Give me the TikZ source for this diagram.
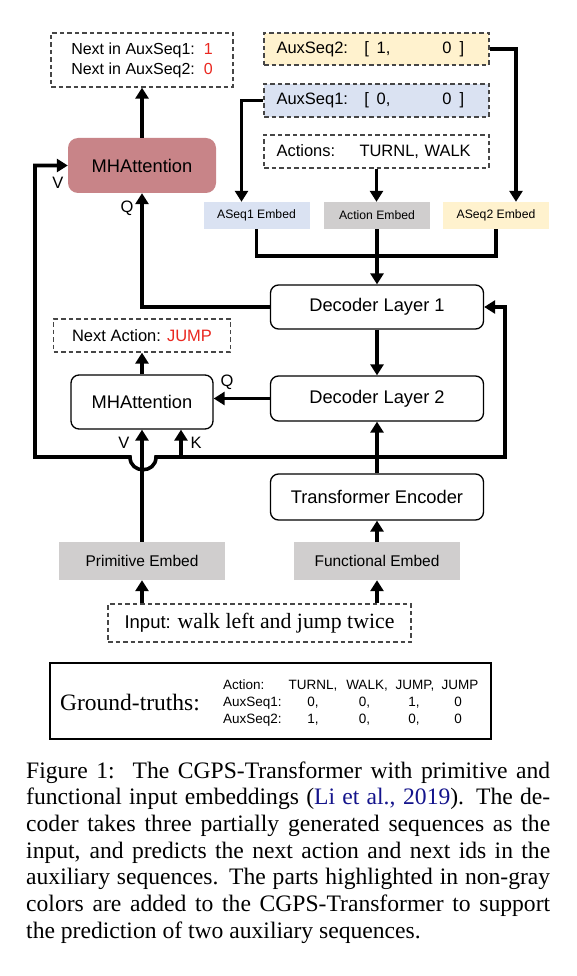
\documentclass[tikz,border=0pt]{standalone}
\usepackage{fontspec}
\setmainfont{Liberation Sans}
\newfontfamily\capfont{Liberation Serif}
\usetikzlibrary{arrows.meta,calc}
\definecolor{rose}{RGB}{200,132,136}
\definecolor{lblue}{RGB}{218,226,242}
\definecolor{lyellow}{RGB}{255,242,206}
\definecolor{lgray}{RGB}{208,206,206}
\definecolor{tred}{RGB}{234,40,32}
\definecolor{citeblue}{RGB}{20,20,140}
\definecolor{dashc}{RGB}{70,70,70}
\begin{document}
\begin{tikzpicture}[x=1pt,y=-1pt,
  dbox/.style={draw=dashc,dash pattern=on 4.5pt off 3pt,line width=1.3pt,inner sep=0pt},
  rbox/.style={draw=black,line width=1.3pt,rounded corners=8pt,fill=white,inner sep=0pt,
     minimum width=213pt,font=\fontsize{18.3}{22}\selectfont},
  embtop/.style={inner sep=0pt,minimum width=106pt,minimum height=27pt,font=\fontsize{12.2}{14}\selectfont},
  embbot/.style={inner sep=0pt,fill=lgray,minimum width=166pt,minimum height=38pt,font=\fontsize{15.5}{18}\selectfont},
  auxtxt/.style={font=\fontsize{16.5}{20}\selectfont,text width=200pt,align=left},
  conn/.style={line width=3.6pt},
  arr/.style={line width=3.6pt,-{Triangle[width=13pt,length=11pt]}},
  lab/.style={font=\fontsize{16.5}{18}\selectfont,inner sep=0pt},
  tt/.style={font=\fontsize{13.5}{16}\selectfont,inner sep=0pt},
]
\fill[white] (0,0) rectangle (576,976);
\useasboundingbox (0,0) rectangle (576,976);

% top-left output box
\node[dbox,minimum width=182pt,minimum height=54pt,align=left,
      font=\fontsize{16}{20}\selectfont] (nextaux) at (142,60)
  {Next in AuxSeq1:\ \ \textcolor{tred}{1}\\Next in AuxSeq2:\ \ \textcolor{tred}{0}};

% auxiliary sequences and actions
\node[dbox,fill=lyellow,minimum width=225pt,minimum height=32pt,auxtxt] (aux2) at (376.5,49)
  {\makebox[88pt][l]{AuxSeq2:}[\hspace{7.5pt}1,\hspace{52pt}0\hspace{8pt}]};
\node[dbox,fill=lblue,minimum width=225pt,minimum height=33pt,auxtxt] (aux1) at (376.5,100.5)
  {\makebox[88pt][l]{AuxSeq1:}[\hspace{7.5pt}0,\hspace{52pt}0\hspace{8pt}]};
\node[dbox,minimum width=225pt,minimum height=33pt,auxtxt] (actions) at (376.5,151.5)
  {\makebox[83pt][l]{Actions:}TURNL, WALK};

% embeddings (top)
\node[embtop,fill=lblue] (aseq1emb) at (256.5,215.5) {ASeq1 Embed};
\node[embtop,fill=lgray] (actemb) at (377,215.5) {Action Embed};
\node[embtop,fill=lyellow] (aseq2emb) at (496,215.5) {ASeq2 Embed};

% decoder / encoder
\node[rbox,minimum height=44pt] (dl1) at (377,307) {Decoder Layer 1};
\node[rbox,minimum height=45pt] (dl2) at (377,398.5) {Decoder Layer 2};
\node[rbox,minimum height=46pt] (te) at (377,497) {Transformer Encoder};

% attention heads
\node[fill=rose,rounded corners=10pt,minimum width=148pt,minimum height=55pt,inner sep=0pt,
      font=\fontsize{18.3}{22}\selectfont] (mha1) at (142,165.5) {MHAttention};
\node[rbox,minimum width=142pt,minimum height=54pt] (mha2) at (142,402) {MHAttention};
\node[dbox,minimum width=177pt,minimum height=33pt,font=\fontsize{16.5}{20}\selectfont] (nextact) at (142,335.5)
  {Next Action: \textcolor{tred}{JUMP}};

% bottom embeddings and input
\node[embbot] (primemb) at (142,561) {Primitive Embed};
\node[embbot] (funcemb) at (377,561) {Functional Embed};
\node[dbox,minimum width=303pt,minimum height=38pt] (input) at (259.5,623)
  {\fontsize{18.5}{20}\selectfont Input: {\capfont\fontsize{21.8}{24}\selectfont walk left and jump twice}};

% connectors
\draw[arr] (mha1.north) -- (nextaux.south);
\draw[arr,line join=miter] (aux2.east) -| ([xshift=20pt]aseq2emb.north);
\draw[arr,line join=miter] (aux1.west) -| ([xshift=-15pt]aseq1emb.north);
\draw[arr] (actions.south) -- (actions.south |- actemb.north);
\coordinate (join) at (377,256);
\draw[conn,line join=miter] (aseq1emb.south) |- (join) -| (aseq2emb.south);
\draw[arr] (actemb.south) -- (dl1.north);
\draw[arr] (dl1.south) -- (dl2.north);
\draw[arr] (te.north) -- (dl2.south);
\coordinate (enc) at (377,457);
\draw[arr,line join=miter] (enc) -- (505,457) |- (dl1.east);
\draw[arr,line join=miter] (enc) -- (156,457) .. controls (156,474) and (130,474) .. (130,457)
   -- (35,457) |- (mha1.west);
\coordinate (kin) at (181,457);
\draw[arr] (kin) -- (kin |- mha2.south);
\draw[arr] (primemb.north) -- (mha2.south);
\draw[arr] (dl2.west) -- (dl2.west -| mha2.east);
\draw[arr] (mha2.north) -- (nextact.south);
\draw[arr,line join=miter] (dl1.west) -| (mha1.south);
\draw[arr] (funcemb.north) -- (te.south);
\draw[arr] (input.north -| primemb.south) -- (primemb.south);
\draw[arr] (input.north -| funcemb.south) -- (funcemb.south);

% port labels
\node[lab] (q1) at (127,208) {Q};
\node[lab] (v1) at (58,183) {V};
\node[lab] (q2) at (227,382) {Q};
\node[lab] (v2) at (124,443) {V};
\node[lab] (k2) at (196,443) {K};

% ground truths
\node[draw,line width=1.5pt,minimum width=441pt,minimum height=76pt,inner sep=0pt] (gt) at (270.5,701) {};
\node[anchor=base west,inner sep=0pt,font=\capfont\fontsize{23.5}{26}\selectfont] (gtl) at (60,710) {Ground-truths:};
\node[tt,anchor=base west] (r1) at (223,689) {Action:};
\node[tt,anchor=base west] (r2) at (223,706) {AuxSeq1:};
\node[tt,anchor=base west] (r3) at (223,723) {AuxSeq2:};
\node[tt,anchor=base] (a1) at (313,689) {TURNL,};
\node[tt,anchor=base] (a2) at (367,689) {WALK,};
\node[tt,anchor=base] (a3) at (415,689) {JUMP,};
\node[tt,anchor=base] (a4) at (460,689) {JUMP};
\node[tt,anchor=base] (b1) at (313,706) {0,};
\node[tt,anchor=base] (b2) at (364.5,706) {0,};
\node[tt,anchor=base] (b3) at (414,706) {1,};
\node[tt,anchor=base] (b4) at (458,706) {0};
\node[tt,anchor=base] (c1) at (313,723) {1,};
\node[tt,anchor=base] (c2) at (364.5,723) {0,};
\node[tt,anchor=base] (c3) at (414,723) {0,};
\node[tt,anchor=base] (c4) at (458,723) {0};

% caption
\node[anchor=base west,inner sep=0pt] (cap) at (26,778) {\parbox[t]{524pt}{\capfont\fontsize{23.6}{26.7}\selectfont
Figure 1:\hspace{0.2em} The CGPS-Transformer with primitive and\linebreak
functional input embeddings (\textcolor{citeblue}{Li et al., 2019}). The de-\linebreak
coder takes three partially generated sequences as the\linebreak
input, and predicts the next action and next ids in the\linebreak
auxiliary sequences. The parts highlighted in non-gray\linebreak
colors are added to the CGPS-Transformer to support\linebreak
the prediction of two auxiliary sequences.}};
\end{tikzpicture}
\end{document}
